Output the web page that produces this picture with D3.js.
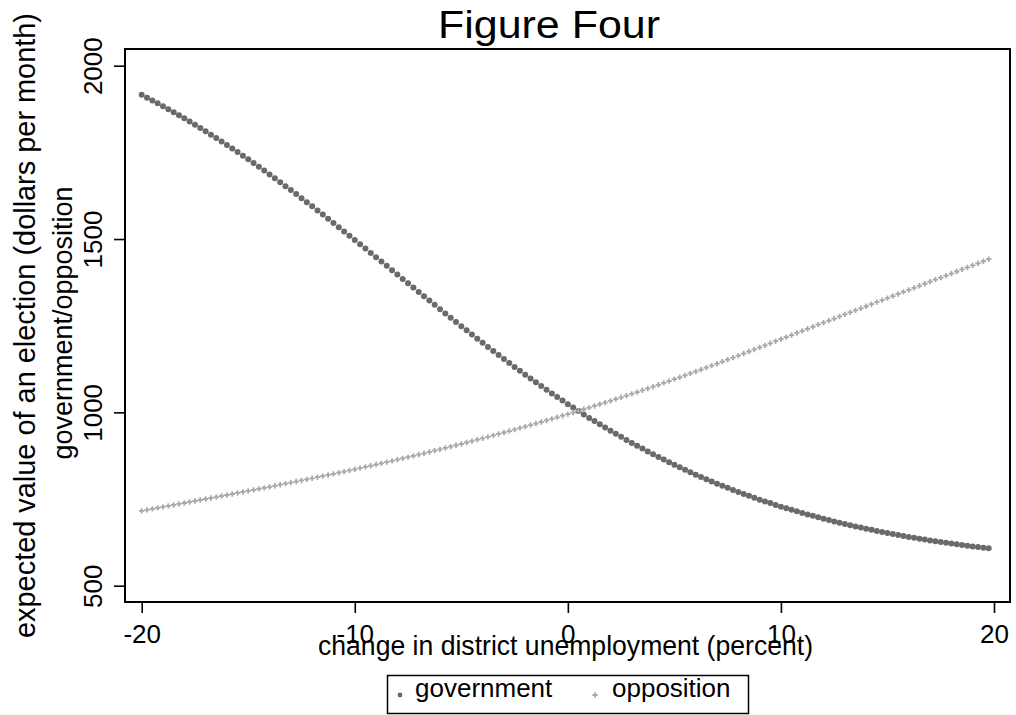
<!DOCTYPE html>
<html>
<head>
<meta charset="utf-8">
<script src="https://cdn.jsdelivr.net/npm/d3@7"></script>
<style>
  html, body { margin: 0; padding: 0; background: #fff; }
  svg { display: block; font-family: "Liberation Sans", Arial, Helvetica, sans-serif; }
</style>
</head>
<body>
<svg id="chart" width="1016" height="715"></svg>
<script>
// Change in district unemployment (percent), one point per quarter percent
const unemploymentChange = [
  -20,-19.75,-19.5,-19.25,-19,-18.75,-18.5,-18.25,-18,-17.75,-17.5,-17.25,-17,-16.75,-16.5,-16.25,
  -16,-15.75,-15.5,-15.25,-15,-14.75,-14.5,-14.25,-14,-13.75,-13.5,-13.25,-13,-12.75,-12.5,-12.25,
  -12,-11.75,-11.5,-11.25,-11,-10.75,-10.5,-10.25,-10,-9.75,-9.5,-9.25,-9,-8.75,-8.5,-8.25,
  -8,-7.75,-7.5,-7.25,-7,-6.75,-6.5,-6.25,-6,-5.75,-5.5,-5.25,-5,-4.75,-4.5,-4.25,
  -4,-3.75,-3.5,-3.25,-3,-2.75,-2.5,-2.25,-2,-1.75,-1.5,-1.25,-1,-0.75,-0.5,-0.25,
  0,0.25,0.5,0.75,1,1.25,1.5,1.75,2,2.25,2.5,2.75,3,3.25,3.5,3.75,
  4,4.25,4.5,4.75,5,5.25,5.5,5.75,6,6.25,6.5,6.75,7,7.25,7.5,7.75,
  8,8.25,8.5,8.75,9,9.25,9.5,9.75,10,10.25,10.5,10.75,11,11.25,11.5,11.75,
  12,12.25,12.5,12.75,13,13.25,13.5,13.75,14,14.25,14.5,14.75,15,15.25,15.5,15.75,
  16,16.25,16.5,16.75,17,17.25,17.5,17.75,18,18.25,18.5,18.75,19,19.25,19.5,19.75
];

// Expected value of an election for the government (dollars per month)
const governmentValue = [
  1915.9,1907.7,1899.6,1891.4,1883.2,1874.5,1865.7,1857.0,1848.2,1838.9,1829.6,1820.2,1810.9,1801.1,1791.2,1781.4,
  1771.5,1761.1,1750.8,1740.4,1730.0,1719.1,1708.3,1697.4,1686.5,1675.2,1663.9,1652.6,1641.3,1629.6,1617.9,1606.2,
  1594.5,1582.5,1570.5,1558.4,1546.4,1534.1,1521.9,1509.6,1497.3,1484.9,1472.5,1460.0,1447.6,1435.1,1422.6,1410.0,
  1397.5,1385.0,1372.5,1359.9,1347.4,1335.0,1322.6,1310.1,1297.7,1285.4,1273.2,1260.9,1248.6,1236.6,1224.6,1212.5,
  1200.5,1188.8,1177.2,1165.5,1153.8,1142.5,1131.2,1119.8,1108.5,1097.7,1086.8,1076.0,1065.1,1054.7,1044.3,1033.9,
  1023.5,1013.7,1003.8,994.0,984.1,974.8,965.5,956.2,946.9,938.1,929.4,920.6,911.8,903.6,895.5,887.3,
  879.1,871.5,863.9,856.2,848.6,841.6,834.5,827.5,820.4,813.9,807.4,800.8,794.3,788.3,782.3,776.3,
  770.3,764.8,759.3,753.7,748.2,743.2,738.2,733.1,728.1,723.5,719.0,714.4,709.8,705.6,701.5,697.3,
  693.1,689.3,685.5,681.7,677.9,674.5,671.1,667.6,664.2,661.1,658.0,654.9,651.8,649.0,646.2,643.4,
  640.6,638.1,635.6,633.0,630.5,628.3,626.0,623.8,621.5,619.5,617.4,615.4,613.3,611.5,609.7,607.8
];

// Expected value of an election for the opposition (dollars per month)
const oppositionValue = [
  716.0,718.8,721.6,724.4,727.3,730.1,732.9,735.8,738.6,741.5,744.3,747.2,750.1,753.0,755.8,758.7,
  761.6,764.5,767.5,770.4,773.3,776.3,779.3,782.2,785.2,788.2,791.3,794.3,797.4,800.5,803.6,806.7,
  809.8,813.0,816.2,819.4,822.6,825.9,829.2,832.5,835.8,839.2,842.6,846.0,849.5,853.0,856.5,860.1,
  863.6,867.3,870.9,874.6,878.3,882.0,885.8,889.6,893.4,897.3,901.2,905.1,909.1,913.1,917.1,921.2,
  925.2,929.4,933.5,937.7,941.9,946.1,950.4,954.7,959.0,963.4,967.8,972.2,976.7,981.2,985.8,990.3,
  994.9,999.6,1004.3,1009.0,1013.7,1018.5,1023.4,1028.2,1033.1,1038.1,1043.2,1048.2,1053.3,1058.5,1063.7,1068.9,
  1074.1,1079.5,1084.9,1090.3,1095.7,1101.2,1106.8,1112.3,1117.9,1123.5,1129.2,1134.9,1140.6,1146.4,1152.2,1158.0,
  1163.8,1169.7,1175.6,1181.5,1187.4,1193.3,1199.3,1205.2,1211.2,1217.1,1223.1,1229.1,1235.1,1241.1,1247.0,1253.0,
  1258.9,1264.8,1270.7,1276.6,1282.5,1288.4,1294.3,1300.2,1306.1,1312.0,1317.9,1323.8,1329.7,1335.6,1341.5,1347.4,
  1353.3,1359.2,1365.1,1371.0,1376.9,1382.8,1388.7,1394.6,1400.5,1406.4,1412.3,1418.2,1424.1,1430.0,1435.9,1441.8
];

const seriesNames = ["government", "opposition"];
const xTicks = [-20, -10, 0, 10, 20];
const yTicks = [500, 1000, 1500, 2000];

const chartTitle = "Figure Four";
const xTitle = "change in district unemployment (percent)";
const yTitleOuter = "expected value of an election (dollars per month)";
const yTitleInner = "government/opposition";

// ---- drawing ----
const svg = d3.select("#chart");
const frame = { left: 125, top: 49, right: 1010, bottom: 602 };
const govColor = "#6a6a6a";
const oppColor = "#a8a8a8";
const plain = d => String(d);   // keep an ASCII hyphen for negative ticks

const x = d3.scaleLinear().domain([-20, 20]).range([141.7, 994]);
const y = d3.scaleLinear().domain([500, 2000]).range([585.7, 65.7]);

// plot region outline
svg.append("rect")
  .attr("x", frame.left).attr("y", frame.top)
  .attr("width", frame.right - frame.left).attr("height", frame.bottom - frame.top)
  .attr("fill", "none").attr("stroke", "#000").attr("stroke-width", 2);

// y axis with rotated labels
const yAxis = svg.append("g")
  .attr("transform", `translate(${frame.left},0)`)
  .call(d3.axisLeft(y).tickValues(yTicks).tickSize(11).tickPadding(0).tickFormat(plain));
yAxis.select(".domain").remove();
yAxis.selectAll(".tick line").attr("stroke", "#000").attr("stroke-width", 1.6);
yAxis.selectAll(".tick text")
  .attr("transform", "rotate(-90)")
  .attr("x", 0).attr("y", -23).attr("dy", 0)
  .attr("text-anchor", "middle")
  .attr("fill", "#000")
  .style("font-size", "26px");

// x axis
const xAxis = svg.append("g")
  .attr("transform", `translate(0,${frame.bottom})`)
  .call(d3.axisBottom(x).tickValues(xTicks).tickSize(11).tickFormat(plain));
xAxis.select(".domain").remove();
xAxis.selectAll(".tick line").attr("stroke", "#000").attr("stroke-width", 1.6);
xAxis.selectAll(".tick text")
  .attr("y", 41).attr("dy", 0)
  .attr("fill", "#000")
  .style("font-size", "26px");

// series
const govPts = unemploymentChange.map((u, i) => [u, governmentValue[i]]);
const oppPts = unemploymentChange.map((u, i) => [u, oppositionValue[i]]);

svg.append("g").selectAll("circle")
  .data(govPts).join("circle")
  .attr("cx", d => x(d[0])).attr("cy", d => y(d[1]))
  .attr("r", 3).attr("fill", govColor);

const crossSym = d3.symbol().type(d3.symbolCross).size(16);
svg.append("g").selectAll("path")
  .data(oppPts).join("path")
  .attr("transform", d => `translate(${x(d[0])},${y(d[1])})`)
  .attr("d", crossSym).attr("fill", oppColor);

// titles
svg.append("text")
  .attr("x", 549).attr("y", 38)
  .attr("text-anchor", "middle")
  .style("font-size", "38px")
  .attr("textLength", 222).attr("lengthAdjust", "spacingAndGlyphs")
  .text(chartTitle);

svg.append("text")
  .attr("x", 565.5).attr("y", 655)
  .attr("text-anchor", "middle")
  .style("font-size", "28px")
  .attr("textLength", 495).attr("lengthAdjust", "spacingAndGlyphs")
  .text(xTitle);

svg.append("text")
  .attr("transform", "translate(35,325.5) rotate(-90)")
  .attr("text-anchor", "middle")
  .style("font-size", "29px")
  .attr("textLength", 625).attr("lengthAdjust", "spacingAndGlyphs")
  .text(yTitleOuter);

svg.append("text")
  .attr("transform", "translate(72,323) rotate(-90)")
  .attr("text-anchor", "middle")
  .style("font-size", "27px")
  .text(yTitleInner);

// legend
const legend = svg.append("g");
legend.append("rect")
  .attr("x", 387.5).attr("y", 675.5).attr("width", 361).attr("height", 38)
  .attr("fill", "#fff").attr("stroke", "#000").attr("stroke-width", 1.5);
legend.append("circle").attr("cx", 400).attr("cy", 695).attr("r", 2.4).attr("fill", govColor);
legend.append("path").attr("transform", "translate(595,695)").attr("d", crossSym).attr("fill", oppColor);
legend.append("text").attr("x", 415).attr("y", 697).style("font-size", "26px").text(seriesNames[0]);
legend.append("text").attr("x", 612).attr("y", 697).style("font-size", "26px").text(seriesNames[1]);
</script>
</body>
</html>
